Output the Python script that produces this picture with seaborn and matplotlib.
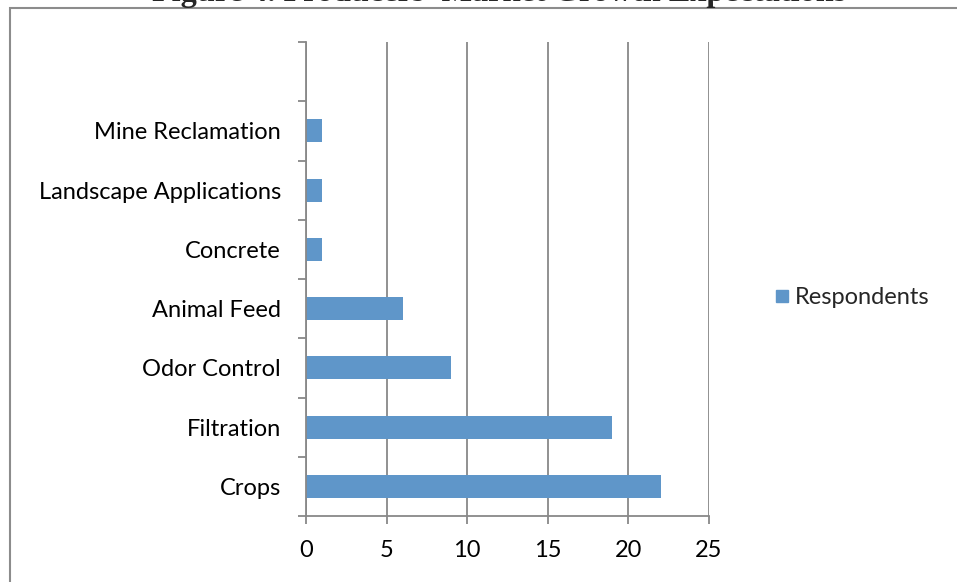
import matplotlib
matplotlib.use("Agg")
import matplotlib.pyplot as plt
from matplotlib.patches import Rectangle
from matplotlib.lines import Line2D
from matplotlib.ticker import FixedLocator
import seaborn as sns
import pandas as pd

# Survey responses: planned growth applications
categories = ["Mine Reclamation", "Landscape Applications", "Concrete",
              "Animal Feed", "Odor Control", "Filtration", "Crops"]
respondents = [1, 1, 1, 6, 9, 19, 22]
x_ticks = [0, 5, 10, 15, 20, 25]
series_name = "Respondents"
title = "Figure 4. Producers' Market Growth Expectations"

df = pd.DataFrame({"Application": categories, series_name: respondents})

sns.set_theme(style="white")
plt.rcParams["font.family"] = ["Lato", "DejaVu Sans"]

BAR = "#5f96c9"
GRID = "#888888"
FS = 17

fig = plt.figure(figsize=(9.57, 5.82), dpi=100)
ax = fig.add_axes([306 / 957, 1 - 516 / 582, (709 - 306) / 957, (516 - 42) / 582])

sns.barplot(data=df, y="Application", x=series_name, order=categories,
            orient="h", color=BAR, width=0.39, saturation=1, ax=ax,
            edgecolor="none", linewidth=0)

# Category axis: one empty slot above the first category
ax.set_ylim(len(categories) - 0.5, -1.5)
ax.set_xlim(0, 25)
ax.set_xticks(x_ticks)
ax.set_xticklabels([str(t) for t in x_ticks])
ax.set_xlabel("")
ax.set_ylabel("")

ax.yaxis.set_minor_locator(FixedLocator([i - 0.5 for i in range(-1, len(categories) + 1)]))
ax.tick_params(axis="y", which="major", length=0, pad=18, labelsize=FS, labelcolor="black")
ax.tick_params(axis="y", which="minor", left=True, length=6, width=1.3, color=GRID)
ax.tick_params(axis="x", which="major", bottom=True, length=6, width=1.3, color=GRID,
               pad=11, labelsize=FS, labelcolor="black")

ax.grid(axis="x", color=GRID, linewidth=1.3)
ax.grid(axis="y", visible=False)
ax.set_axisbelow(True)
for side in ("top", "right"):
    ax.spines[side].set_visible(False)
for side in ("left", "bottom"):
    ax.spines[side].set_color(GRID)
    ax.spines[side].set_linewidth(1.3)

# Legend to the right of the plot area
handle = Line2D([], [], linestyle="none", marker="s", markersize=9,
                markerfacecolor=BAR, markeredgecolor=BAR)
fig.legend([handle], [series_name], loc="center left",
           bbox_to_anchor=(763 / 957, 1 - 298 / 582), frameon=False,
           fontsize=FS, handletextpad=0.15, borderaxespad=0, handlelength=0.8)

# Chart border and heading (heading sits mostly above the top edge)
fig.patches.append(Rectangle((9.5 / 957, -0.1), 1.2, 1 - 7.5 / 582 + 0.1,
                             transform=fig.transFigure, fill=False,
                             edgecolor="#8c8c8c", linewidth=1.5, zorder=0))
fig.text(499 / 957, 1 - 0.5 / 582, title, ha="center", va="baseline",
         fontsize=23.2, fontweight="bold", family=["Liberation Serif"])

fig.savefig("out.png", dpi=100)
